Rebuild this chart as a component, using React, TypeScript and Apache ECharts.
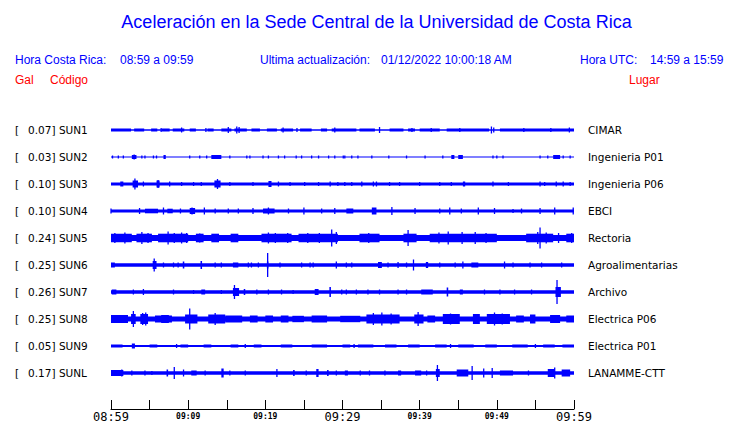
import React, { useEffect, useRef } from 'react';
import * as echarts from 'echarts';

const CODES = ['SUN1', 'SUN2', 'SUN3', 'SUN4', 'SUN5', 'SUN6', 'SUN7', 'SUN8', 'SUN9', 'SUNL'];
const GALS = ['0.07', '0.03', '0.10', '0.10', '0.24', '0.25', '0.26', '0.25', '0.05', '0.17'];
const PLACES = ['CIMAR', 'Ingenieria P01', 'Ingenieria P06', 'EBCI', 'Rectoria', 'Agroalimentarias', 'Archivo', 'Electrica P06', 'Electrica P01', 'LANAMME-CTT'];

// minutes after 08:59 for labelled ticks
const TICK_MINUTES = [0, 10, 20, 30, 40, 50, 60];
const TICK_LABELS = ['08:59', '09:09', '09:19', '09:29', '09:39', '09:49', '09:59'];
const BIG_LABELS = ['08:59', '09:29', '09:59'];

// amplitude units: 27 units = spacing between traces
const AMP_PER_TRACE = 27;
// background half-amplitude of each trace
const BASE = [0.8, 0.5, 1.6, 1.6, 3.1, 1.8, 1.8, 2.6, 1.1, 1.8];

// [startMinute, endMinute, halfAmplitude]
const EV_SUN1 = [
  [0, 2.6, 1.5], [3, 4.3, 1.5], [5.2, 6, 1.5], [6.6, 7.6, 1.5], [8, 9.5, 1.5], [10.2, 11, 1.5], [12.5, 13.3, 1.5],
  [14.3, 15.6, 1.5], [16, 17.6, 1.5], [18.2, 19.3, 1.5], [20.2, 21.5, 1.5], [22, 23.6, 1.5], [24.5, 26, 1.5],
  [27.2, 28, 1.5], [28.6, 31.8, 1.5], [32.2, 34.2, 1.5], [36.1, 37.9, 1.5], [38.5, 39.4, 1.5], [40, 42.6, 1.5],
  [43.5, 49, 1.5], [50.4, 60, 1.5],
  [9.15, 9.15, 2.5], [15.2, 15.2, 3], [16.3, 16.3, 3.5], [16.6, 16.6, 3], [22.3, 22.3, 2.5], [29, 29, 2.5],
  [34.8, 34.8, 3], [41.5, 41.5, 2], [49.3, 49.3, 3.5], [49.6, 49.6, 2.5], [59.4, 59.4, 2.5], [6.5, 6.5, 2],
  [12.3, 12.3, 2], [24.1, 24.1, 2], [39, 39, 2], [45.2, 45.2, 2], [53.5, 53.5, 2], [57, 57, 2],
];
const EV_SUN2 = [
  [0.2, 0.2, 1.5], [0.95, 0.95, 1.5], [1.6, 1.6, 1.5], [4.0, 4.0, 1.5], [4.4, 4.4, 1.5], [5.5, 5.5, 1.5], [5.9, 5.9, 1.5],
  [10.2, 10.2, 1.5], [11.5, 11.5, 1.5], [12.4, 12.4, 1.5], [15.4, 15.4, 1.5], [17.6, 17.6, 1.5], [18.0, 18.0, 1.5],
  [19.7, 19.7, 1.5], [20.4, 20.4, 1.5], [21.7, 21.7, 1.5], [22.5, 22.5, 1.5], [24.0, 24.0, 1.5], [24.7, 24.7, 1.5],
  [26.0, 26.0, 1.5], [26.9, 26.9, 1.5], [28.2, 28.2, 1.5], [29.0, 29.0, 1.5], [30.1, 30.1, 1.5], [30.3, 30.3, 1.5],
  [31.2, 31.2, 1.5], [32.0, 32.0, 1.5], [33.8, 33.8, 1.5], [36.0, 36.0, 1.5], [38.3, 38.3, 1.5], [40.7, 40.7, 1.5],
  [43.0, 43.0, 1.5], [49.5, 49.5, 1.5], [50.0, 50.0, 1.5], [50.8, 50.8, 1.5], [55.6, 55.6, 1.5], [56.6, 56.6, 1.5],
  [58.6, 58.6, 1.5], [59.5, 59.5, 1.5],
  [2.7, 3.3, 2], [3.0, 3.0, 2.5], [6.8, 7.1, 2], [13.0, 14.3, 2], [44.1, 44.5, 2], [45.0, 45.6, 2], [57.3, 58.2, 2],
];
const EV_SUN3 = [
  [1.2, 1.6, 2.5], [2.8, 3.5, 3.5], [3.1, 3.1, 5.5], [4.2, 4.2, 2.5], [5.9, 6.3, 3.5], [6.1, 6.1, 4], [7.6, 7.6, 2.5],
  [9.15, 9.15, 2], [10.7, 10.7, 2], [11.7, 11.7, 2], [13.4, 14.2, 3.5], [13.8, 13.8, 5], [15.4, 15.4, 2], [18.4, 18.4, 2],
  [20.4, 20.8, 3], [21.7, 21.7, 2.5], [23.2, 23.2, 2], [25.1, 25.1, 2], [26.9, 26.9, 2], [28.4, 28.4, 2.5], [29.4, 29.4, 2],
  [30.3, 30.3, 2], [31.2, 31.2, 2], [32.5, 32.5, 2.5], [34.0, 34.0, 2.5], [34.4, 34.4, 2.5], [36.1, 36.1, 2], [37.4, 37.4, 2],
  [40.0, 40.0, 2], [42.6, 42.6, 2], [44.1, 44.1, 2], [45.6, 45.9, 2.5], [49.5, 49.5, 2.5], [51.5, 51.5, 2], [55.6, 55.6, 2.5],
  [56.2, 56.2, 2], [57.7, 57.7, 2.5], [58.6, 58.6, 2.5], [59.5, 59.5, 2],
];
const EV_SUN4 = [
  [0, 0.15, 2.5], [3.7, 3.7, 3], [4.4, 6.1, 2.3], [6.8, 6.8, 3.5], [7.3, 8, 2.3], [9.0, 9.0, 2.5], [10.2, 10.9, 3],
  [10.5, 10.5, 3.5], [12.1, 12.1, 3.5], [13.5, 13.5, 2.5], [15.2, 15.2, 2.5], [16.5, 16.5, 2.5], [18.4, 18.4, 3],
  [19.7, 21.2, 2.5], [20.4, 20.4, 3.5], [23.0, 23.0, 2.5], [25.0, 25.0, 3.5], [27.3, 27.3, 2.5], [29.0, 29.0, 3],
  [30.5, 31.4, 2.5], [33.8, 34.4, 3.5], [36.4, 36.4, 4], [39.4, 39.4, 3], [42.6, 42.6, 2.5], [43.9, 43.9, 3.5],
  [45.4, 45.4, 2.5], [47.6, 47.6, 3.5], [49.7, 49.7, 3], [52.1, 52.1, 2], [53.2, 53.2, 2.5], [55.6, 55.6, 3],
  [57.5, 57.5, 3.5], [59.9, 60, 3.5],
];
const EV_SUN5 = [
  [0, 2.7, 4.3], [3.3, 5.3, 4.3], [6.1, 10, 4.3], [11, 12, 4.3], [13, 14, 4.3], [15.5, 16.5, 4.3], [19.5, 23.4, 4.3],
  [24.3, 29.4, 4.3], [32.2, 34.8, 4.3], [37.9, 39.6, 4.3], [41.3, 50, 4.3], [53.8, 57.3, 4.3], [59, 60, 4.3],
  [0.5, 0.5, 5], [1.8, 1.8, 5.5], [4.0, 4.0, 6], [4.8, 4.8, 5], [7.4, 7.4, 6.5], [8.2, 8.2, 5], [9.15, 9.15, 5.5],
  [9.8, 9.8, 5], [11.5, 11.5, 4.5], [20.4, 20.4, 5.5], [21.3, 21.3, 5], [22.9, 22.9, 5], [25.5, 25.5, 5], [27, 27, 5],
  [28.6, 28.6, 8.5], [29.2, 29.2, 6], [33.4, 33.4, 5], [38.5, 38.5, 8], [42.5, 42.5, 5.5], [43.7, 43.7, 6.5],
  [45.5, 45.5, 6], [47.2, 47.2, 6], [48.6, 48.6, 5], [55.3, 55.3, 6], [55.6, 55.6, 10.5], [56.4, 56.4, 5.5],
  [58, 58, 5], [59.7, 59.7, 5],
];
const EV_SUN6 = [
  [0, 0.5, 2.5], [5.4, 5.9, 4], [5.6, 5.6, 6.5], [6.8, 6.8, 2.5], [8.1, 8.1, 2.5], [8.7, 8.7, 2.5], [9.3, 9.5, 3.5],
  [11.6, 11.8, 4], [13.5, 13.5, 2.5], [14.3, 14.3, 2.5], [15.8, 16.5, 2.5], [17.8, 17.8, 2.5], [18.2, 18.2, 2.5],
  [19.1, 19.1, 2.5], [20.2, 20.4, 3.5], [20.3, 20.3, 12], [21.9, 21.9, 2.5], [24.7, 24.7, 2.5], [25.8, 25.8, 2.5],
  [26.2, 26.2, 2.5], [29.2, 29.2, 3.5], [30.5, 30.5, 2.5], [31.2, 31.2, 2.5], [34.6, 35.1, 3], [35.9, 35.9, 2.5],
  [37.2, 37.2, 3], [38.3, 38.3, 2.5], [39.2, 39.2, 5.5], [40.8, 41.1, 3], [42.6, 42.6, 2.5], [44.6, 44.6, 2.5],
  [45.6, 45.6, 3.5], [46.7, 47.6, 2.5], [51.0, 51.0, 3.5], [52.1, 52.1, 2.5], [54.3, 54.3, 2.5], [55.8, 55.8, 2.5],
  [58.4, 58.4, 2.5],
];
const EV_SUN7 = [
  [0.1, 0.7, 2.5], [2.9, 2.9, 2.5], [4.2, 4.2, 3], [8.1, 8.1, 2.5], [10.7, 10.7, 2], [11.7, 12.2, 2.5], [14.3, 14.3, 2],
  [15.8, 16.6, 4], [16.0, 16.0, 7], [17.2, 17.4, 3], [18.9, 18.9, 2.5], [20.4, 20.4, 2.5], [22.1, 22.1, 2.5],
  [23.6, 23.6, 2], [26.4, 26.9, 3], [28.3, 28.5, 5], [29.9, 29.9, 2.5], [30.5, 30.5, 2.5], [31.8, 31.8, 2.5],
  [33.3, 33.3, 2.5], [34.8, 34.8, 2.5], [37.2, 37.2, 2.5], [38.3, 38.3, 2.5], [40.2, 41.7, 2.5], [43.5, 43.7, 4.5],
  [45.2, 45.6, 2.5], [48.4, 48.4, 2.5], [50.4, 50.4, 2.5], [52.3, 52.3, 2.5], [54.5, 54.5, 2.5], [57.6, 58.3, 5],
  [57.8, 57.8, 12],
];
const EV_SUN8 = [
  [0, 2.2, 4], [2.6, 3.2, 5], [2.9, 2.9, 8], [3.8, 4.8, 5], [4.1, 4.1, 6], [4.5, 4.5, 6.5], [5.7, 7.9, 3.5],
  [6.5, 7.5, 4], [9.6, 11.2, 4.5], [10.2, 10.2, 10.5], [12.6, 14.8, 4.5], [13.5, 13.5, 6], [14.8, 17, 3.5],
  [18, 19, 3.5], [20, 21, 3.5], [22, 23, 3.5], [23.5, 25, 3.2], [26, 28, 3.5], [29.7, 32.3, 3.2], [33.1, 37.4, 4.5],
  [34, 34, 6], [35.1, 35.1, 6.5], [36.3, 36.3, 5.5], [39.3, 40.5, 4.5], [39.8, 39.8, 7], [41, 42, 3.5],
  [43, 45.2, 5], [44, 44, 5.5], [46.9, 47.8, 5], [48.7, 51.7, 5], [49.7, 49.7, 6.5], [50.7, 50.7, 5.5],
  [52.5, 53.5, 3.5], [54.3, 55, 4.5], [56.9, 58.2, 4], [59, 60, 3.5],
];
const EV_SUN9 = [
  [0, 1.5, 1.5], [2.7, 3.1, 2.5], [5, 6, 1.5], [9, 10, 1.5], [12, 13, 1.5], [15.5, 16.5, 1.5], [18.5, 19.5, 1.5],
  [22, 23.5, 1.5], [26, 28, 1.5], [30, 31, 1.5], [32, 34, 1.5], [35.5, 37, 1.5], [38.5, 40, 1.5], [42, 43.5, 1.5],
  [45, 47, 1.5], [48.5, 50, 1.5], [52, 54, 1.5], [56, 57.5, 1.5], [58.5, 60, 1.5],
  [8.5, 8.5, 2], [17.4, 17.4, 2], [31.5, 31.5, 2], [44, 44, 2], [55, 55, 2],
];
const EV_SUNL = [
  [0, 1.6, 3], [1.4, 1.4, 3.5], [2.7, 2.7, 2.5], [4.4, 4.4, 2.5], [5.3, 5.3, 2], [7.2, 7.4, 3.5], [8.2, 8.2, 6],
  [9.4, 9.4, 3.5], [10.4, 11.1, 2.5], [12.2, 12.2, 2.5], [14.3, 14.6, 4.5], [15.4, 15.4, 2.5], [17.4, 17.4, 2.5],
  [21.5, 21.5, 4], [23.6, 23.8, 3], [25.3, 25.3, 2.5], [26.6, 26.9, 4], [28, 28.2, 3], [29.2, 29.2, 2.5],
  [30.3, 30.7, 2.5], [32.3, 32.3, 2.5], [33.5, 33.5, 2.5], [35.5, 35.5, 2.5], [37.2, 37.6, 2.5], [39.4, 40.2, 2.5],
  [40.9, 40.9, 2.5], [42.1, 42.6, 4], [42.3, 42.3, 8], [44.8, 46.3, 3.5], [46.8, 46.8, 7], [48.3, 48.3, 4.5],
  [49.4, 49.4, 5], [50.4, 52.1, 2.5], [54.1, 54.1, 2.5], [56.6, 57.5, 4], [57.5, 57.5, 5.5], [58.4, 59.5, 3.5],
];
const EVENTS = [EV_SUN1, EV_SUN2, EV_SUN3, EV_SUN4, EV_SUN5, EV_SUN6, EV_SUN7, EV_SUN8, EV_SUN9, EV_SUNL];

const BLUE = '#0000ff';
const RED = '#ff0000';

export default function App() {
  const ref = useRef<HTMLDivElement>(null);
  useEffect(() => {
    document.body.style.margin = '0';
    if (!ref.current) return;
    const chart = echarts.init(ref.current, null, { renderer: 'svg' });

    const data: number[][] = [];
    BASE.forEach((b, i) => data.push([0, 60, i, b]));
    EVENTS.forEach((evs, i) => evs.forEach((e) => data.push([e[0], e[1], i, e[2]])));

    const sans = '"Liberation Sans", Arial, sans-serif';
    const txt = (text: string, x: number, y: number, fill: string, size: number, align = 'left') => ({
      type: 'text', x, y,
      style: { text, fill, font: `${size}px ${sans}`, textAlign: align, textVerticalAlign: 'middle' },
    });

    chart.setOption({
      animation: false,
      graphic: [
        txt('Aceleración en la Sede Central de la Universidad de Costa Rica', 376.5, 22, BLUE, 18, 'center'),
        txt('Hora Costa Rica:', 15, 60, BLUE, 12),
        txt('08:59 a 09:59', 120, 60, BLUE, 12),
        txt('Ultima actualización:', 260, 60, BLUE, 12),
        txt('01/12/2022 10:00:18 AM', 381, 60, BLUE, 12),
        txt('Hora UTC:', 580, 60, BLUE, 12),
        txt('14:59 a 15:59', 650, 60, BLUE, 12),
        txt('Gal', 15, 80, RED, 12),
        txt('Código', 50, 80, RED, 12),
        txt('Lugar', 629, 80, RED, 12),
      ],
      grid: { left: 111, right: 166, top: 116.5, height: 270 },
      xAxis: {
        type: 'value', min: 0, max: 60, interval: 5,
        offset: 22.5,
        axisLine: { show: true, lineStyle: { color: '#000', width: 1 } },
        axisTick: { show: true, inside: true, length: 9, lineStyle: { color: '#000', width: 1 } },
        splitLine: { show: false },
        axisLabel: {
          margin: 2,
          showMinLabel: true, showMaxLabel: true,
          formatter: (v: number) => {
            const k = TICK_MINUTES.indexOf(v);
            if (k < 0) return '';
            const t = TICK_LABELS[k];
            return BIG_LABELS.includes(t) ? `{big|${t}}` : `{small|${t}}`;
          },
          rich: {
            big: { fontFamily: '"DejaVu Sans Mono", monospace', fontSize: 12, color: '#000' },
            small: { fontFamily: '"DejaVu Sans Mono", monospace', fontSize: 8, fontWeight: 'bold', color: '#000', padding: [1, 0, 0, 0] },
          },
        },
      },
      yAxis: [
        {
          type: 'category', data: CODES, inverse: true, position: 'left',
          axisLine: { show: false }, axisTick: { show: false }, splitLine: { show: false },
          axisLabel: {
            align: 'left', margin: 96,
            formatter: (v: string) => {
              const i = CODES.indexOf(v);
              return `{a|[}{b|${GALS[i]}] ${v}}`;
            },
            rich: {
              a: { padding: [0, 9, 0, 0], fontFamily: '"DejaVu Sans", sans-serif', fontSize: 10.5, color: '#000' },
              b: { fontFamily: '"DejaVu Sans", sans-serif', fontSize: 10.5, color: '#000' },
            },
          },
        },
        {
          type: 'category', data: PLACES, inverse: true, position: 'right',
          axisLine: { show: false }, axisTick: { show: false }, splitLine: { show: false },
          axisLabel: {
            align: 'left', margin: 14,
            fontFamily: '"DejaVu Sans", sans-serif', fontSize: 10.5, color: '#000',
          },
        },
      ],
      series: [
        {
          type: 'custom',
          xAxisIndex: 0, yAxisIndex: 0,
          encode: { x: [0, 1], y: 2 },
          data,
          renderItem: (params: any, api: any) => {
            const s = api.value(0), e = api.value(1), idx = api.value(2), h = api.value(3);
            const p0 = api.coord([s, idx]);
            const p1 = api.coord([e, idx]);
            const band = api.size([0, 1])[1];
            const hp = (h * band) / AMP_PER_TRACE;
            let x = p0[0];
            let w = p1[0] - p0[0];
            if (w < 1.3) { x -= 0.65; w = 1.3; }
            return {
              type: 'rect',
              shape: { x, y: p0[1] - hp, width: w, height: hp * 2 },
              style: { fill: BLUE },
            };
          },
        },
      ],
    });
    return () => chart.dispose();
  }, []);
  return <div ref={ref} style={{ width: 740, height: 423 }} />;
}
